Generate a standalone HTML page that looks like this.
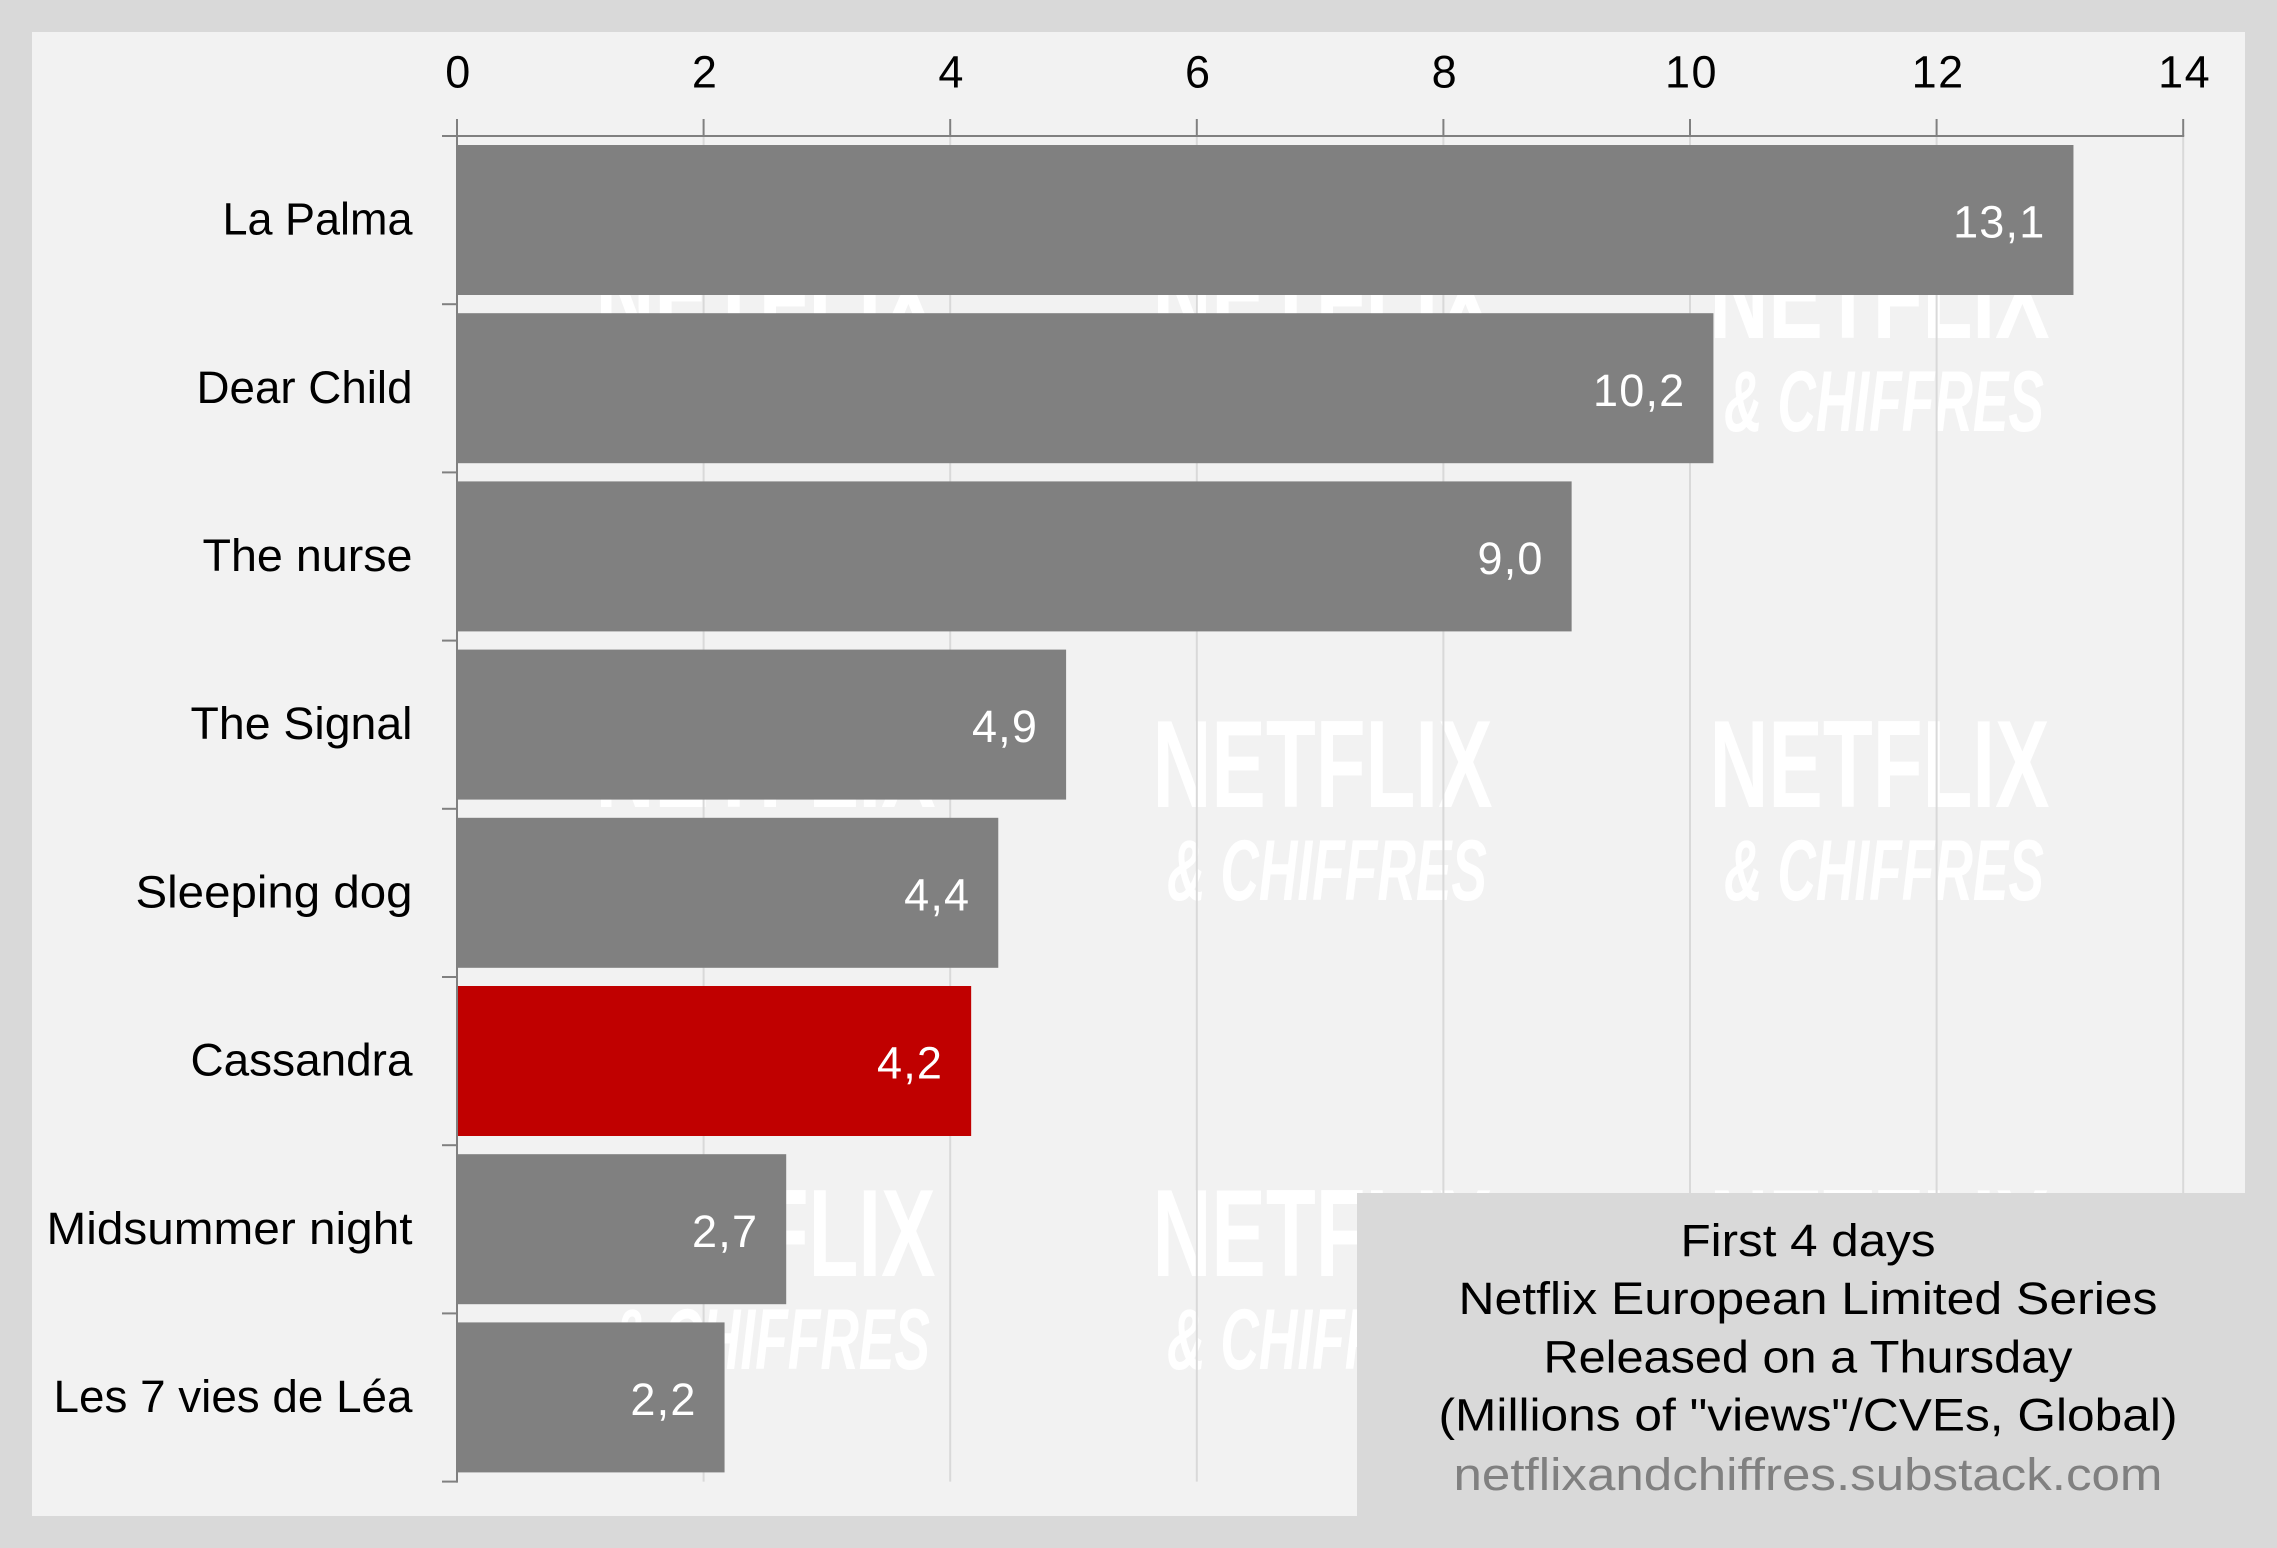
<!DOCTYPE html>
<html lang="en">
<head>
<meta charset="utf-8">
<title>First 4 days - Netflix European Limited Series</title>
<style>
html,body{margin:0;padding:0;background:#d9d9d9;width:2277px;height:1548px;overflow:hidden}
svg{display:block}
text{font-family:"Liberation Sans",sans-serif}
.wm1{font-weight:700;font-size:124px;fill:#fff}
.wm2{font-weight:700;font-style:italic;font-size:86px;fill:#fff}
.tk{font-size:45px;fill:#000}
.xt{letter-spacing:1.5px}
.val{font-size:45px;fill:#fff;letter-spacing:1.2px}
.lg{font-size:45px;fill:#000;text-anchor:middle}
</style>
</head>
<body>
<svg id="chart" xmlns="http://www.w3.org/2000/svg" width="2277" height="1548" viewBox="0 0 2277 1548">
  <rect x="0" y="0" width="2277" height="1548" fill="#d9d9d9"/>
  <rect x="32" y="32" width="2213" height="1484" fill="#f2f2f2"/>
  <g>
    <text class="wm1" x="595.5" y="338" textLength="340" lengthAdjust="spacingAndGlyphs">NETFLIX</text>
    <text class="wm1" x="1152.5" y="338" textLength="340" lengthAdjust="spacingAndGlyphs">NETFLIX</text>
    <text class="wm1" x="1709.5" y="338" textLength="340" lengthAdjust="spacingAndGlyphs">NETFLIX</text>
    <text class="wm2" x="610" y="431" textLength="320" lengthAdjust="spacingAndGlyphs">&amp; CHIFFRES</text>
    <text class="wm2" x="1167" y="431" textLength="320" lengthAdjust="spacingAndGlyphs">&amp; CHIFFRES</text>
    <text class="wm2" x="1724" y="431" textLength="320" lengthAdjust="spacingAndGlyphs">&amp; CHIFFRES</text>
    <text class="wm1" x="595.5" y="807" textLength="340" lengthAdjust="spacingAndGlyphs">NETFLIX</text>
    <text class="wm1" x="1152.5" y="807" textLength="340" lengthAdjust="spacingAndGlyphs">NETFLIX</text>
    <text class="wm1" x="1709.5" y="807" textLength="340" lengthAdjust="spacingAndGlyphs">NETFLIX</text>
    <text class="wm2" x="610" y="900" textLength="320" lengthAdjust="spacingAndGlyphs">&amp; CHIFFRES</text>
    <text class="wm2" x="1167" y="900" textLength="320" lengthAdjust="spacingAndGlyphs">&amp; CHIFFRES</text>
    <text class="wm2" x="1724" y="900" textLength="320" lengthAdjust="spacingAndGlyphs">&amp; CHIFFRES</text>
    <text class="wm1" x="595.5" y="1276" textLength="340" lengthAdjust="spacingAndGlyphs">NETFLIX</text>
    <text class="wm1" x="1152.5" y="1276" textLength="340" lengthAdjust="spacingAndGlyphs">NETFLIX</text>
    <text class="wm1" x="1709.5" y="1276" textLength="340" lengthAdjust="spacingAndGlyphs">NETFLIX</text>
    <text class="wm2" x="610" y="1369" textLength="320" lengthAdjust="spacingAndGlyphs">&amp; CHIFFRES</text>
    <text class="wm2" x="1167" y="1369" textLength="320" lengthAdjust="spacingAndGlyphs">&amp; CHIFFRES</text>
    <text class="wm2" x="1724" y="1369" textLength="320" lengthAdjust="spacingAndGlyphs">&amp; CHIFFRES</text>
  </g>
  <g id="grid"></g>
  <g id="bars"></g>
  <g id="axes"></g>
  <g id="labels"></g>
  <g>
    <rect x="1357" y="1193" width="888" height="323" fill="#d9d9d9"/>
    <text class="lg" x="1808" y="1256" textLength="255" lengthAdjust="spacingAndGlyphs">First 4 days</text>
    <text class="lg" x="1808" y="1314" textLength="699" lengthAdjust="spacingAndGlyphs">Netflix European Limited Series</text>
    <text class="lg" x="1808" y="1372.5" textLength="529" lengthAdjust="spacingAndGlyphs">Released on a Thursday</text>
    <text class="lg" x="1808" y="1430.5" textLength="739" lengthAdjust="spacingAndGlyphs">(Millions of "views"/CVEs, Global)</text>
    <text class="lg" x="1808" y="1490" textLength="709" lengthAdjust="spacingAndGlyphs" style="fill:#808080">netflixandchiffres.substack.com</text>
  </g>
</svg>
<script>
const categories = ["La Palma", "Dear Child", "The nurse", "The Signal", "Sleeping dog", "Cassandra", "Midsummer night", "Les 7 vies de Léa"];
const seriesValues = [13.11, 10.19, 9.04, 4.94, 4.39, 4.17, 2.67, 2.17];
const tickValues = [0, 2, 4, 6, 8, 10, 12, 14];
const highlightedCategory = "Cassandra";

const NS = "http://www.w3.org/2000/svg";
const X0 = 457, UNIT = 123.3, AXIS_Y = 136, BAND = 168.2, BAR_PAD = 9, BAR_H = 150;
const LABEL_FIT = { "La Palma": 190, "Dear Child": 216, "The nurse": 210, "The Signal": 222, "Sleeping dog": 277, "Cassandra": 222, "Midsummer night": 366, "Les 7 vies de Léa": 359 };
function xScale(v) { return X0 + v * UNIT; }
function bandTop(i) { return AXIS_Y + i * BAND; }
function bandMid(i) { return bandTop(i) + BAND / 2; }
function make(tag, attrs, parent) {
  const el = document.createElementNS(NS, tag);
  for (const k in attrs) el.setAttribute(k, attrs[k]);
  parent.appendChild(el);
  return el;
}
const gGrid = document.getElementById("grid");
const gBars = document.getElementById("bars");
const gAxes = document.getElementById("axes");
const gLabels = document.getElementById("labels");
const bottomY = bandTop(categories.length);
const AXIS_COLOR = "#808080";

tickValues.forEach(function (t) {
  const grid = make("line", { x1: xScale(t), x2: xScale(t), y1: AXIS_Y, y2: bottomY, stroke: "#d9d9d9", "stroke-width": 2 }, gGrid);
  
  
});

categories.forEach(function (c, i) {
  const v = seriesValues[i];
  const bar = make("rect", { x: xScale(0), y: bandTop(i) + BAR_PAD, width: xScale(v) - xScale(0), height: BAR_H, fill: c === highlightedCategory ? "#c00000" : "#808080" }, gBars);
  
  

  const val = make("text", { class: "val", x: xScale(v) - 28, y: bandMid(i) + 17.5, "text-anchor": "end" }, gLabels);
  val.textContent = v.toFixed(1).replace(".", ",");
  
  

  const lab = make("text", { class: "tk", x: 412.5, y: bandMid(i) + 14.5, "text-anchor": "end", textLength: LABEL_FIT[c], lengthAdjust: "spacingAndGlyphs" }, gAxes);
  lab.textContent = c;
  
  
});

for (let i = 0; i <= categories.length; i++) {
  const tick = make("line", { x1: 442, x2: X0, y1: bandTop(i), y2: bandTop(i), stroke: AXIS_COLOR, "stroke-width": 2 }, gAxes);
  
  
}

const xAxisLine = make("line", { x1: 442, x2: xScale(tickValues[tickValues.length - 1]) + 1, y1: AXIS_Y, y2: AXIS_Y, stroke: AXIS_COLOR, "stroke-width": 2 }, gAxes);



const yAxisLine = make("line", { x1: X0, x2: X0, y1: AXIS_Y, y2: bottomY + 1, stroke: AXIS_COLOR, "stroke-width": 2 }, gAxes);



tickValues.forEach(function (t) {
  const tick = make("line", { x1: xScale(t), x2: xScale(t), y1: 119, y2: AXIS_Y, stroke: AXIS_COLOR, "stroke-width": 2 }, gAxes);
  
  

  const lab = make("text", { class: "tk xt", x: xScale(t) + 1.5, y: 87.5, "text-anchor": "middle" }, gAxes);
  lab.textContent = String(t);
  
  
});
</script>
</body>
</html>
